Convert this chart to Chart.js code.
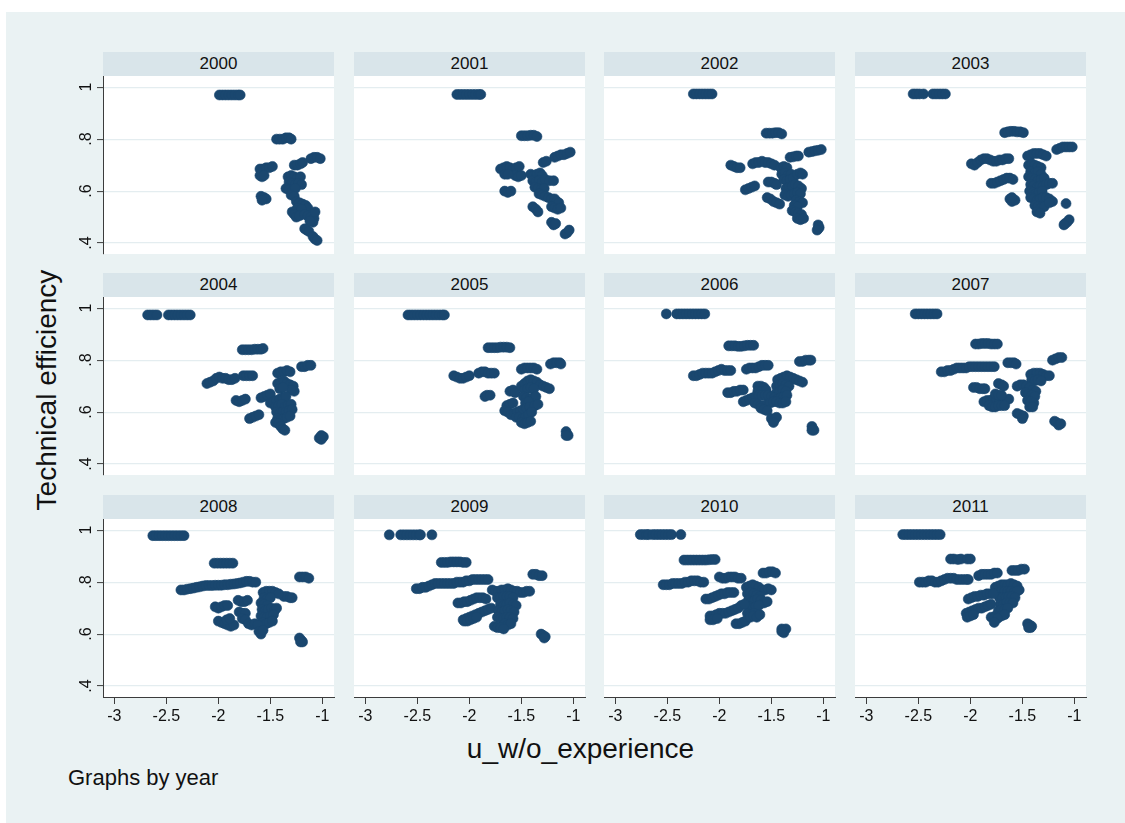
<!DOCTYPE html>
<html><head><meta charset="utf-8">
<script src="https://cdn.jsdelivr.net/npm/chart.js@4.4.0/dist/chart.umd.min.js"></script>
<style>
body{margin:0;background:#fff;width:1125px;height:823px;overflow:hidden;position:relative;font-family:"Liberation Sans",Arial,sans-serif;}
#bg{position:absolute;left:6px;top:12px;width:1119px;height:811px;background:#EAF2F3;}
.hdr{position:absolute;height:24px;line-height:24px;background:#D9E5EA;text-align:center;font-size:17px;color:#111;}
.plot{position:absolute;background:#fff;}
canvas{position:absolute;}
.txt{position:absolute;color:#111;white-space:nowrap;}
</style></head><body>
<div id="bg"></div>
<script>
const years = [2000,2001,2002,2003,2004,2005,2006,2007,2008,2009,2010,2011];
const xTicks = [-3,-2.5,-2,-1.5,-1];
const xTickLabels = ['-3','-2.5','-2','-1.5','-1'];
const yTicks = [0.4,0.6,0.8,1];
const yTickLabels = ['.4','.6','.8','1'];
const xTitle = 'u_w/o_experience';
const yTitle = 'Technical efficiency';
const note = 'Graphs by year';

const d2000 = [[-1.99,.97],[-1.96,.97],[-1.93,.97],[-1.90,.97],[-1.87,.97],[-1.84,.97],[-1.81,.97],[-1.79,.97],
[-1.44,.80],[-1.41,.80],[-1.38,.80],[-1.35,.805],[-1.32,.805],[-1.30,.80],
[-1.11,.725],[-1.08,.73],[-1.05,.73],[-1.02,.725],
[-1.27,.70],[-1.24,.70],[-1.21,.705],[-1.19,.71],
[-1.60,.685],[-1.57,.685],[-1.54,.69],[-1.51,.69],[-1.48,.695],[-1.60,.66],[-1.58,.655],[-1.56,.66],
[-1.59,.58],[-1.56,.575],[-1.54,.57],[-1.58,.565],
[-1.33,.655],[-1.30,.66],[-1.27,.655],[-1.24,.65],[-1.21,.655],[-1.32,.635],[-1.29,.63],[-1.26,.625],[-1.23,.63],[-1.20,.625],[-1.35,.61],[-1.32,.605],[-1.29,.60],[-1.26,.61],[-1.30,.585],[-1.27,.58],
[-1.25,.56],[-1.22,.555],[-1.19,.55],[-1.16,.545],[-1.14,.535],[-1.24,.535],[-1.20,.53],
[-1.29,.52],[-1.27,.51],[-1.25,.50],[-1.22,.505],
[-1.17,.51],[-1.14,.505],[-1.11,.50],[-1.08,.495],[-1.07,.52],[-1.09,.48],[-1.12,.485],
[-1.17,.455],[-1.15,.45],[-1.13,.445],
[-1.09,.425],[-1.07,.415],[-1.05,.41]];

const d2001 = [[-2.12,.972],[-2.09,.972],[-2.06,.972],[-2.03,.972],[-2.00,.972],[-1.97,.972],[-1.94,.972],[-1.91,.972],[-1.89,.972],
[-1.50,.813],[-1.47,.813],[-1.44,.813],[-1.41,.815],[-1.38,.815],[-1.35,.81],
[-1.29,.71],[-1.26,.715],[-1.18,.73],[-1.15,.735],[-1.12,.74],[-1.09,.74],[-1.06,.745],[-1.03,.75],
[-1.70,.685],[-1.67,.69],[-1.64,.695],[-1.61,.69],[-1.58,.685],[-1.55,.69],[-1.52,.695],[-1.56,.66],[-1.53,.655],[-1.50,.66],[-1.66,.665],[-1.63,.665],
[-1.66,.60],[-1.63,.595],[-1.60,.60],
[-1.41,.665],[-1.38,.66],[-1.35,.665],[-1.32,.67],[-1.30,.66],[-1.39,.64],[-1.36,.635],[-1.33,.64],[-1.30,.635],[-1.27,.645],[-1.23,.64],[-1.19,.64],[-1.37,.615],[-1.34,.61],[-1.31,.605],[-1.28,.61],[-1.33,.59],[-1.30,.585],[-1.27,.58],[-1.24,.575],[-1.21,.57],
[-1.18,.57],[-1.16,.56],[-1.14,.555],[-1.21,.54],[-1.18,.535],[-1.15,.53],[-1.12,.535],
[-1.39,.54],[-1.36,.53],[-1.34,.52],
[-1.21,.48],[-1.19,.47],[-1.17,.475],
[-1.08,.435],[-1.06,.44],[-1.04,.45]];

const d2002 = [[-2.25,.974],[-2.22,.974],[-2.19,.974],[-2.16,.974],[-2.13,.974],[-2.10,.974],[-2.07,.974],
[-1.55,.823],[-1.52,.823],[-1.49,.823],[-1.46,.825],[-1.43,.825],[-1.40,.82],
[-1.14,.75],[-1.11,.752],[-1.08,.755],[-1.05,.757],[-1.02,.76],
[-1.32,.73],[-1.29,.732],[-1.26,.735],[-1.24,.735],
[-1.89,.70],[-1.86,.695],[-1.83,.69],[-1.80,.69],
[-1.68,.705],[-1.65,.71],[-1.62,.71],[-1.59,.715],[-1.56,.71],[-1.53,.71],[-1.50,.705],[-1.47,.70],
[-1.75,.605],[-1.72,.61],[-1.69,.615],[-1.66,.62],
[-1.53,.635],[-1.50,.635],[-1.47,.63],[-1.45,.625],
[-1.41,.69],[-1.38,.695],[-1.35,.69],[-1.40,.665],[-1.37,.67],[-1.34,.66],[-1.31,.665],[-1.38,.645],[-1.35,.64],[-1.32,.645],[-1.29,.65],
[-1.25,.665],[-1.22,.67],[-1.20,.665],
[-1.36,.61],[-1.33,.615],[-1.30,.62],[-1.27,.625],[-1.24,.62],[-1.21,.61],[-1.37,.585],[-1.34,.58],[-1.31,.585],[-1.28,.59],[-1.25,.595],[-1.22,.59],[-1.26,.565],[-1.23,.56],[-1.20,.555],[-1.28,.545],[-1.25,.54],
[-1.30,.525],[-1.27,.52],[-1.24,.515],[-1.21,.51],[-1.25,.495],[-1.22,.49],[-1.19,.495],
[-1.54,.575],[-1.51,.57],[-1.48,.56],[-1.45,.555],[-1.42,.55],
[-1.05,.47],[-1.05,.455],[-1.04,.46],[-1.06,.45]];

const d2003 = [[-2.55,.974],[-2.52,.974],[-2.49,.974],[-2.45,.974],[-2.36,.974],[-2.33,.974],[-2.30,.974],[-2.27,.974],[-2.24,.974],
[-1.67,.825],[-1.64,.828],[-1.61,.83],[-1.58,.83],[-1.55,.828],[-1.52,.828],[-1.49,.825],
[-1.17,.76],[-1.14,.765],[-1.11,.77],[-1.08,.77],[-1.05,.77],[-1.02,.77],
[-1.45,.735],[-1.42,.74],[-1.39,.745],[-1.36,.745],[-1.33,.745],[-1.30,.74],[-1.27,.735],
[-1.99,.705],[-1.96,.70],[-1.93,.71],[-1.90,.72],[-1.87,.725],[-1.84,.725],[-1.81,.72],[-1.78,.715],[-1.75,.715],[-1.72,.72],[-1.69,.72],[-1.66,.725],[-1.63,.725],
[-1.80,.63],[-1.77,.63],[-1.74,.635],[-1.71,.64],[-1.68,.645],[-1.65,.65],[-1.62,.65],[-1.59,.645],
[-1.62,.57],[-1.60,.56],[-1.57,.565],[-1.60,.575],
[-1.44,.70],[-1.41,.705],[-1.38,.70],[-1.35,.695],[-1.32,.69],[-1.42,.675],[-1.38,.67],[-1.35,.675],[-1.32,.665],
[-1.44,.655],[-1.41,.65],[-1.38,.645],[-1.35,.64],[-1.32,.645],[-1.29,.65],[-1.42,.625],[-1.39,.62],[-1.36,.615],[-1.33,.62],[-1.30,.62],[-1.27,.625],[-1.24,.63],[-1.21,.63],[-1.43,.60],[-1.40,.595],[-1.37,.59],[-1.34,.595],[-1.31,.60],
[-1.42,.575],[-1.39,.57],[-1.36,.565],[-1.33,.57],[-1.30,.575],[-1.27,.575],[-1.24,.57],[-1.38,.545],[-1.35,.54],[-1.32,.535],[-1.29,.54],[-1.36,.52],[-1.33,.515],
[-1.08,.552],[-1.21,.56],[-1.24,.555],
[-1.09,.475],[-1.07,.48],[-1.05,.49],[-1.10,.47]];

const d2004 = [[-2.68,.974],[-2.65,.974],[-2.62,.974],[-2.59,.974],[-2.48,.974],[-2.45,.974],[-2.42,.974],[-2.39,.974],[-2.36,.974],[-2.33,.974],[-2.30,.974],[-2.27,.974],
[-1.77,.84],[-1.74,.84],[-1.71,.84],[-1.68,.84],[-1.65,.842],[-1.62,.842],[-1.59,.842],[-1.57,.845],
[-1.20,.775],[-1.17,.775],[-1.14,.78],[-1.11,.78],
[-1.43,.75],[-1.40,.755],[-1.37,.755],[-1.34,.76],[-1.31,.755],
[-1.76,.74],[-1.73,.74],[-1.70,.74],[-1.67,.74],
[-2.11,.71],[-2.08,.715],[-2.05,.72],[-2.02,.73],[-1.99,.735],[-1.96,.73],[-1.93,.73],[-1.90,.725],[-1.87,.725],[-1.84,.73],
[-1.83,.645],[-1.80,.64],[-1.77,.645],[-1.74,.65],
[-1.59,.655],[-1.56,.66],[-1.53,.665],[-1.50,.67],
[-1.70,.575],[-1.67,.58],[-1.64,.585],[-1.61,.59],
[-1.43,.71],[-1.40,.715],[-1.37,.72],[-1.34,.71],[-1.31,.705],[-1.28,.70],[-1.27,.68],[-1.30,.685],[-1.41,.69],[-1.38,.695],
[-1.50,.635],[-1.47,.64],[-1.44,.645],[-1.41,.65],[-1.38,.655],[-1.35,.66],[-1.45,.62],[-1.42,.625],[-1.39,.63],[-1.36,.62],[-1.33,.625],[-1.30,.63],[-1.44,.60],[-1.41,.595],[-1.38,.60],[-1.35,.60],[-1.32,.605],[-1.29,.61],[-1.43,.575],[-1.40,.57],[-1.37,.575],[-1.34,.58],[-1.31,.585],[-1.45,.56],[-1.42,.555],
[-1.40,.545],[-1.38,.535],[-1.36,.53],
[-1.03,.50],[-1.01,.495],[-0.99,.505],[-1.01,.51]];

const d2005 = [[-2.59,.974],[-2.56,.974],[-2.53,.974],[-2.50,.974],[-2.47,.974],[-2.44,.974],[-2.41,.974],[-2.38,.974],[-2.35,.974],[-2.32,.974],[-2.29,.974],[-2.26,.974],[-2.24,.974],
[-1.82,.848],[-1.79,.848],[-1.76,.848],[-1.73,.848],[-1.70,.85],[-1.67,.85],[-1.64,.85],[-1.61,.848],
[-1.22,.785],[-1.19,.79],[-1.16,.79],[-1.13,.79],[-1.12,.785],
[-1.50,.765],[-1.47,.77],[-1.44,.77],[-1.41,.77],[-1.38,.77],[-1.35,.765],
[-2.15,.74],[-2.12,.735],[-2.09,.73],[-2.06,.73],[-2.03,.735],[-2.00,.74],
[-1.91,.75],[-1.88,.755],[-1.85,.755],[-1.82,.75],[-1.79,.75],[-1.76,.75],
[-1.85,.66],[-1.83,.665],[-1.80,.665],
[-1.61,.68],[-1.58,.685],[-1.56,.675],
[-1.50,.70],[-1.47,.71],[-1.44,.72],[-1.41,.725],[-1.38,.72],[-1.35,.715],[-1.32,.705],[-1.29,.70],[-1.26,.695],[-1.23,.69],[-1.47,.685],[-1.44,.69],[-1.41,.695],[-1.38,.69],[-1.48,.66],[-1.45,.655],[-1.42,.65],[-1.39,.655],[-1.36,.66],[-1.46,.635],[-1.43,.64],
[-1.64,.625],[-1.61,.63],[-1.58,.635],[-1.66,.605],[-1.63,.60],[-1.60,.59],[-1.57,.595],[-1.54,.60],[-1.51,.605],[-1.48,.61],[-1.45,.615],[-1.42,.62],[-1.37,.625],[-1.34,.63],[-1.55,.58],[-1.52,.58],[-1.49,.575],[-1.46,.58],[-1.43,.59],[-1.40,.60],[-1.50,.56],[-1.47,.555],[-1.44,.56],[-1.41,.565],
[-1.07,.525],[-1.06,.515],[-1.05,.51],[-1.07,.51]];

const d2006 = [[-2.51,.978],[-2.41,.978],[-2.38,.978],[-2.35,.978],[-2.32,.978],[-2.29,.978],[-2.26,.978],[-2.23,.978],[-2.20,.978],[-2.17,.978],[-2.14,.978],
[-1.91,.855],[-1.88,.855],[-1.85,.855],[-1.82,.853],[-1.79,.853],[-1.76,.855],[-1.73,.857],[-1.70,.857],[-1.67,.857],
[-1.23,.795],[-1.20,.795],[-1.17,.80],[-1.14,.80],[-1.12,.80],
[-1.74,.765],[-1.71,.77],[-1.68,.77],[-1.65,.77],[-1.62,.775],[-1.59,.78],[-1.56,.78],[-1.53,.78],
[-2.25,.74],[-2.22,.74],[-2.19,.745],[-2.16,.75],[-2.13,.75],[-2.10,.75],[-2.07,.75],[-2.04,.755],[-2.01,.76],[-1.98,.765],[-1.95,.76],[-1.92,.76],[-1.89,.76],
[-1.92,.675],[-1.89,.675],[-1.86,.68],[-1.83,.68],[-1.80,.685],[-1.77,.685],
[-1.63,.70],[-1.60,.70],[-1.57,.695],[-1.63,.68],[-1.59,.68],[-1.55,.685],
[-1.44,.725],[-1.41,.73],[-1.38,.735],[-1.35,.74],[-1.32,.735],[-1.29,.73],[-1.26,.725],[-1.23,.72],[-1.20,.715],[-1.45,.70],[-1.42,.705],[-1.39,.71],[-1.36,.705],[-1.33,.70],[-1.45,.675],[-1.42,.68],[-1.39,.685],[-1.36,.68],
[-1.77,.64],[-1.74,.645],[-1.71,.65],[-1.68,.655],[-1.65,.66],[-1.62,.665],[-1.59,.665],[-1.56,.665],[-1.53,.665],[-1.50,.66],[-1.47,.655],[-1.44,.65],[-1.41,.655],[-1.38,.66],[-1.35,.665],[-1.66,.635],[-1.63,.63],[-1.60,.625],[-1.57,.625],[-1.54,.63],[-1.51,.635],[-1.48,.64],[-1.45,.64],[-1.42,.635],[-1.39,.635],[-1.36,.64],
[-1.50,.575],[-1.47,.57],[-1.45,.58],[-1.48,.56],
[-1.60,.615],[-1.57,.61],[-1.54,.605],
[-1.11,.545],[-1.10,.535],[-1.09,.53],[-1.11,.53]];

const d2007 = [[-2.53,.978],[-2.50,.978],[-2.47,.978],[-2.44,.978],[-2.41,.978],[-2.38,.978],[-2.35,.978],[-2.32,.978],
[-1.95,.862],[-1.92,.862],[-1.89,.864],[-1.86,.864],[-1.83,.864],[-1.80,.862],[-1.77,.862],[-1.74,.862],
[-1.21,.80],[-1.18,.805],[-1.15,.81],[-1.12,.81],
[-1.64,.79],[-1.61,.79],[-1.58,.79],[-1.56,.785],
[-2.28,.755],[-2.25,.755],[-2.22,.76],[-2.19,.76],[-2.16,.765],[-2.13,.77],[-2.10,.77],[-2.07,.77],[-2.04,.77],[-2.01,.775],[-1.98,.775],[-1.95,.775],[-1.92,.775],[-1.89,.775],[-1.86,.775],[-1.83,.775],[-1.80,.775],[-1.77,.775],
[-1.97,.695],[-1.94,.695],[-1.91,.69],[-1.88,.69],[-1.86,.69],
[-1.73,.71],[-1.70,.705],[-1.68,.70],
[-1.42,.745],[-1.39,.75],[-1.36,.75],[-1.33,.75],[-1.30,.745],[-1.27,.74],[-1.24,.74],[-1.41,.725],[-1.38,.72],[-1.35,.725],[-1.32,.72],
[-1.55,.70],[-1.52,.705],[-1.49,.705],[-1.46,.70],[-1.43,.695],[-1.40,.685],[-1.37,.68],[-1.47,.675],[-1.44,.67],[-1.41,.665],[-1.38,.66],
[-1.87,.64],[-1.84,.645],[-1.81,.645],[-1.78,.65],[-1.75,.65],[-1.72,.65],[-1.69,.645],[-1.66,.645],[-1.63,.65],[-1.82,.625],[-1.79,.62],[-1.76,.62],[-1.73,.625],[-1.70,.625],[-1.67,.625],
[-1.76,.67],[-1.73,.665],[-1.70,.665],
[-1.55,.595],[-1.52,.59],[-1.49,.585],[-1.50,.575],
[-1.45,.645],[-1.42,.64],[-1.39,.635],[-1.43,.62],[-1.40,.62],
[-1.19,.565],[-1.17,.56],[-1.15,.55],[-1.13,.555]];

const d2008 = [[-2.63,.979],[-2.60,.979],[-2.57,.979],[-2.54,.979],[-2.51,.979],[-2.48,.979],[-2.45,.979],[-2.42,.979],[-2.39,.979],[-2.36,.979],[-2.33,.979],
[-2.04,.873],[-2.01,.873],[-1.98,.873],[-1.95,.873],[-1.92,.873],[-1.89,.873],[-1.86,.873],
[-1.22,.82],[-1.19,.82],[-1.16,.82],[-1.13,.815],
[-2.36,.77],[-2.33,.77],[-2.30,.773],[-2.27,.775],[-2.24,.777],[-2.21,.78],[-2.18,.782],[-2.15,.785],[-2.12,.787],[-2.09,.787],[-2.06,.787],[-2.03,.788],[-2.00,.788],[-1.97,.788],[-1.94,.79],[-1.91,.79],[-1.88,.792],[-1.85,.793],[-1.82,.795],[-1.79,.797],[-1.76,.80],[-1.73,.803],[-1.70,.803],[-1.67,.80],[-1.64,.80],
[-1.37,.745],[-1.34,.745],[-1.31,.74],[-1.29,.74],
[-1.57,.76],[-1.54,.765],[-1.51,.765],[-1.48,.765],[-1.45,.76],[-1.42,.755],[-1.56,.74],[-1.53,.735],[-1.50,.74],
[-1.81,.73],[-1.78,.725],[-1.75,.725],[-1.72,.73],
[-2.03,.705],[-2.00,.70],[-1.97,.705],[-1.94,.71],[-1.91,.71],
[-1.59,.72],[-1.56,.715],[-1.53,.71],[-1.58,.695],[-1.55,.69],[-1.52,.695],[-1.49,.70],[-1.46,.69],[-1.44,.70],[-1.59,.67],[-1.56,.665],[-1.53,.665],[-1.50,.67],[-1.47,.675],[-1.57,.645],[-1.54,.64],[-1.51,.645],[-1.48,.65],
[-1.80,.685],[-1.77,.68],[-1.74,.68],[-1.77,.66],[-1.74,.655],
[-2.00,.65],[-1.97,.645],[-1.94,.64],[-1.91,.635],[-1.88,.63],[-1.85,.635],[-1.92,.655],[-1.89,.66],
[-1.71,.64],[-1.68,.635],[-1.65,.64],[-1.62,.635],
[-1.61,.61],[-1.59,.60],[-1.57,.615],
[-1.22,.585],[-1.20,.575],[-1.19,.57],[-1.21,.57]];

const d2009 = [[-2.77,.982],[-2.66,.982],[-2.63,.982],[-2.60,.982],[-2.57,.982],[-2.54,.982],[-2.51,.982],[-2.48,.982],[-2.47,.982],[-2.36,.982],
[-2.27,.876],[-2.24,.876],[-2.21,.876],[-2.18,.878],[-2.15,.878],[-2.12,.878],[-2.09,.878],[-2.06,.876],[-2.03,.876],
[-1.39,.83],[-1.36,.83],[-1.33,.825],[-1.30,.825],
[-2.51,.775],[-2.48,.775],[-2.45,.78],[-2.42,.78],[-2.39,.785],[-2.36,.79],[-2.33,.795],[-2.30,.795],[-2.27,.795],[-2.24,.795],[-2.21,.795],[-2.18,.795],[-2.15,.795],[-2.12,.80],[-2.09,.80],[-2.06,.80],[-2.03,.805],[-2.00,.805],[-1.97,.81],[-1.94,.81],[-1.91,.81],[-1.88,.81],[-1.85,.81],[-1.82,.81],
[-1.78,.77],[-1.75,.765],[-1.72,.765],[-1.69,.77],[-1.66,.77],[-1.63,.775],[-1.60,.77],[-1.57,.765],[-1.54,.765],[-1.51,.76],[-1.48,.76],[-1.45,.765],[-1.42,.765],
[-2.11,.72],[-2.08,.72],[-2.05,.725],[-2.02,.725],[-1.99,.73],[-1.96,.735],[-1.93,.74],[-1.90,.74],[-1.87,.74],[-1.84,.735],
[-2.06,.655],[-2.03,.66],[-2.00,.665],[-1.97,.67],[-1.94,.675],[-1.91,.68],[-1.88,.685],[-1.85,.69],[-1.82,.695],[-1.79,.70],
[-2.05,.65],[-2.02,.65],[-1.99,.655],[-1.96,.66],[-1.93,.665],
[-1.73,.74],[-1.70,.74],[-1.67,.745],[-1.64,.745],[-1.61,.745],[-1.58,.74],
[-1.70,.715],[-1.67,.71],[-1.64,.715],[-1.61,.72],[-1.58,.715],[-1.55,.71],
[-1.72,.69],[-1.69,.685],[-1.66,.69],[-1.63,.695],[-1.60,.69],[-1.57,.685],
[-1.73,.665],[-1.70,.66],[-1.67,.66],[-1.64,.665],[-1.61,.665],[-1.58,.66],
[-1.66,.64],[-1.63,.635],[-1.60,.64],
[-1.76,.63],[-1.73,.625],[-1.70,.625],[-1.67,.62],
[-1.31,.60],[-1.29,.595],[-1.27,.59],[-1.28,.585]];

const d2010 = [[-2.76,.983],[-2.73,.983],[-2.70,.983],[-2.68,.983],[-2.64,.983],[-2.61,.983],[-2.58,.983],[-2.55,.983],[-2.52,.983],[-2.49,.983],[-2.46,.983],[-2.37,.983],
[-2.34,.885],[-2.31,.885],[-2.28,.885],[-2.25,.885],[-2.22,.885],[-2.19,.885],[-2.16,.885],[-2.13,.885],[-2.10,.886],[-2.07,.887],[-2.04,.887],
[-1.58,.835],[-1.55,.835],[-1.52,.84],[-1.49,.84],[-1.46,.835],
[-2.00,.82],[-1.97,.815],[-1.94,.815],[-1.91,.82],[-1.88,.82],[-1.85,.82],[-1.82,.815],[-1.79,.815],
[-2.54,.79],[-2.51,.79],[-2.48,.79],[-2.45,.795],[-2.42,.795],[-2.39,.795],[-2.36,.795],[-2.33,.80],[-2.30,.80],[-2.27,.805],[-2.24,.805],[-2.21,.805],[-2.18,.80],[-2.15,.80],
[-1.74,.78],[-1.71,.785],[-1.68,.79],[-1.65,.785],[-1.62,.78],[-1.59,.77],[-1.56,.77],[-1.53,.775],[-1.50,.77],
[-1.73,.755],[-1.70,.76],[-1.67,.755],[-1.64,.75],[-1.61,.745],
[-1.72,.73],[-1.69,.725],[-1.66,.73],[-1.63,.735],[-1.60,.73],[-1.57,.72],[-1.54,.725],
[-1.71,.705],[-1.68,.70],[-1.65,.705],[-1.62,.71],
[-1.73,.68],[-1.70,.675],[-1.67,.68],
[-2.13,.735],[-2.10,.735],[-2.07,.74],[-2.04,.745],[-2.01,.75],[-1.98,.755],[-1.95,.755],[-1.92,.76],[-1.89,.76],[-1.86,.76],
[-2.09,.67],[-2.06,.67],[-2.03,.675],[-2.00,.68],[-1.97,.68],[-1.94,.68],[-1.91,.685],[-1.88,.69],[-1.85,.695],[-1.82,.70],[-1.79,.71],[-1.76,.715],
[-2.09,.655],[-2.06,.655],[-2.02,.66],
[-1.84,.64],[-1.81,.64],[-1.78,.645],[-1.75,.65],
[-1.70,.665],[-1.67,.67],[-1.64,.665],[-1.61,.675],
[-1.40,.62],[-1.38,.615],[-1.36,.62],[-1.38,.605],[-1.40,.61]];

const d2011 = [[-2.65,.983],[-2.62,.983],[-2.59,.983],[-2.56,.983],[-2.53,.983],[-2.50,.983],[-2.47,.983],[-2.44,.983],[-2.41,.983],[-2.38,.983],[-2.35,.983],[-2.32,.983],[-2.29,.983],
[-2.19,.889],[-2.16,.889],[-2.12,.887],[-2.09,.889],[-2.03,.889],[-2.00,.889],
[-1.60,.845],[-1.57,.845],[-1.54,.845],[-1.51,.85],[-1.48,.85],
[-1.92,.825],[-1.89,.83],[-1.86,.83],[-1.83,.83],[-1.80,.83],[-1.77,.835],[-1.74,.835],
[-2.49,.80],[-2.46,.80],[-2.43,.80],[-2.40,.805],[-2.37,.805],[-2.34,.80],[-2.31,.80],[-2.28,.805],[-2.25,.81],[-2.22,.815],[-2.19,.815],[-2.16,.815],[-2.13,.81],[-2.10,.81],[-2.07,.81],[-2.04,.81],[-2.02,.81],
[-1.76,.78],[-1.73,.785],[-1.70,.79],[-1.67,.79],[-1.64,.79],[-1.61,.795],[-1.58,.79],[-1.55,.785],[-1.53,.77],
[-1.73,.76],[-1.70,.765],[-1.67,.765],[-1.64,.765],[-1.61,.765],[-1.58,.76],[-1.55,.765],
[-1.72,.74],[-1.69,.74],[-1.66,.74],[-1.63,.745],[-1.60,.745],[-1.57,.74],
[-1.71,.715],[-1.68,.715],[-1.65,.72],[-1.62,.72],[-1.59,.72],
[-1.73,.69],[-1.70,.695],[-1.67,.695],[-1.64,.70],
[-1.76,.67],[-1.73,.665],[-1.70,.67],[-1.67,.675],
[-2.02,.735],[-1.99,.74],[-1.96,.745],[-1.93,.745],[-1.90,.75],[-1.87,.75],[-1.84,.755],[-1.81,.755],[-1.78,.755],
[-2.04,.68],[-2.01,.685],[-1.98,.69],[-1.95,.695],[-1.92,.70],[-1.89,.70],[-1.86,.705],[-1.83,.71],[-1.80,.715],[-2.03,.665],[-2.00,.67],[-1.97,.675],
[-1.80,.665],[-1.77,.66],[-1.74,.66],[-1.77,.645],
[-1.45,.64],[-1.43,.635],[-1.41,.63],[-1.42,.625],[-1.44,.625]];

const seriesByYear = [d2000,d2001,d2002,d2003,d2004,d2005,d2006,d2007,d2008,d2009,d2010,d2011];

// ---- layout (pixels) ----
const COLS = [103, 354, 604, 855];
const ROWS = [76, 297, 519];
const PW = 231, PH = 178, AXW = 60, PADT = 6, PADR = 8, AXH = 36;
const XMIN = -3.109, XMAX = -0.888, YMIN = 0.358, YMAX = 1.043;
const MARK = '#1A476F', AXIS = '#3c3c3c', GRID = '#E4EDF0';
const FONT = '"Liberation Sans", Arial, sans-serif';

function addDiv(cls, css, text) {
  const d = document.createElement('div');
  d.className = cls;
  Object.assign(d.style, css);
  if (text !== undefined) d.textContent = text;
  document.body.appendChild(d);
  return d;
}

years.forEach((yr, i) => {
  const c = i % 4, r = Math.floor(i / 4);
  addDiv('hdr', {left: COLS[c] + 'px', top: (ROWS[r] - 24) + 'px', width: PW + 'px'}, String(yr));
  addDiv('plot', {left: COLS[c] + 'px', top: ROWS[r] + 'px', width: PW + 'px', height: PH + 'px'});
});

addDiv('txt', {left: (46.5 - 200) + 'px', top: (390 - 14) + 'px', width: '400px', height: '28px', lineHeight: '28px',
  textAlign: 'center', fontSize: '28px', transform: 'rotate(-90deg)'}, yTitle);
addDiv('txt', {left: (580.5 - 300) + 'px', top: '735px', width: '600px', lineHeight: '28px', textAlign: 'center', fontSize: '28px'}, xTitle);
addDiv('txt', {left: '68px', top: '767px', lineHeight: '22px', fontSize: '22px'}, note);

const rotY = {
  id: 'rotY',
  afterDraw(chart) {
    const s = chart.scales.y, ctx = chart.ctx;
    ctx.save();
    ctx.fillStyle = '#111';
    ctx.font = '16px ' + FONT;
    ctx.textAlign = 'center';
    ctx.textBaseline = 'middle';
    yTicks.forEach((v, k) => {
      ctx.save();
      ctx.translate(chart.chartArea.left - 16, s.getPixelForValue(v));
      ctx.rotate(-Math.PI / 2);
      ctx.fillText(yTickLabels[k], 0, 0);
      ctx.restore();
    });
    ctx.restore();
  }
};

years.forEach((yr, i) => {
  const c = i % 4, r = Math.floor(i / 4);
  const firstCol = c === 0, lastRow = r === 2;
  const cv = document.createElement('canvas');
  const W = AXW + PW + PADR, H = PADT + PH + AXH;
  cv.width = W; cv.height = H;
  cv.style.width = W + 'px'; cv.style.height = H + 'px';
  cv.style.left = (COLS[c] - AXW) + 'px';
  cv.style.top = (ROWS[r] - PADT) + 'px';
  document.body.appendChild(cv);
  const pts = seriesByYear[i].map(p => ({x: p[0], y: p[1]}));
  new Chart(cv.getContext('2d'), {
    type: 'scatter',
    data: {datasets: [{data: pts, backgroundColor: MARK, borderColor: MARK, borderWidth: 0.6,
      pointRadius: 5, pointHoverRadius: 5}]},
    options: {
      responsive: false, animation: false, devicePixelRatio: 1,
      layout: {padding: {top: PADT, right: PADR, left: 0, bottom: 0}},
      plugins: {legend: {display: false}, tooltip: {enabled: false}},
      events: [],
      scales: {
        x: {
          type: 'linear', min: XMIN, max: XMAX,
          afterBuildTicks: s => { s.ticks = xTicks.map(v => ({value: v})); },
          afterFit: s => { s.height = AXH; },
          ticks: {display: lastRow, color: '#111', font: {family: FONT, size: 16}, padding: 3,
            maxRotation: 0, minRotation: 0, autoSkip: false,
            callback: (v) => { const k = xTicks.indexOf(v); return k >= 0 ? xTickLabels[k] : ''; }},
          grid: {display: lastRow, drawOnChartArea: false, drawTicks: true, tickLength: 7, tickColor: AXIS, tickWidth: 1},
          border: {display: lastRow, color: AXIS, width: 1}
        },
        y: {
          type: 'linear', min: YMIN, max: YMAX,
          afterBuildTicks: s => { s.ticks = yTicks.map(v => ({value: v})); },
          afterFit: s => { s.width = AXW; },
          ticks: {display: false},
          grid: {display: true, color: GRID, lineWidth: 1.2, drawTicks: firstCol, tickLength: 6, tickColor: AXIS, tickWidth: 1},
          border: {display: firstCol, color: AXIS, width: 1}
        }
      }
    },
    plugins: firstCol ? [rotY] : []
  });
});
</script>
</body></html>
